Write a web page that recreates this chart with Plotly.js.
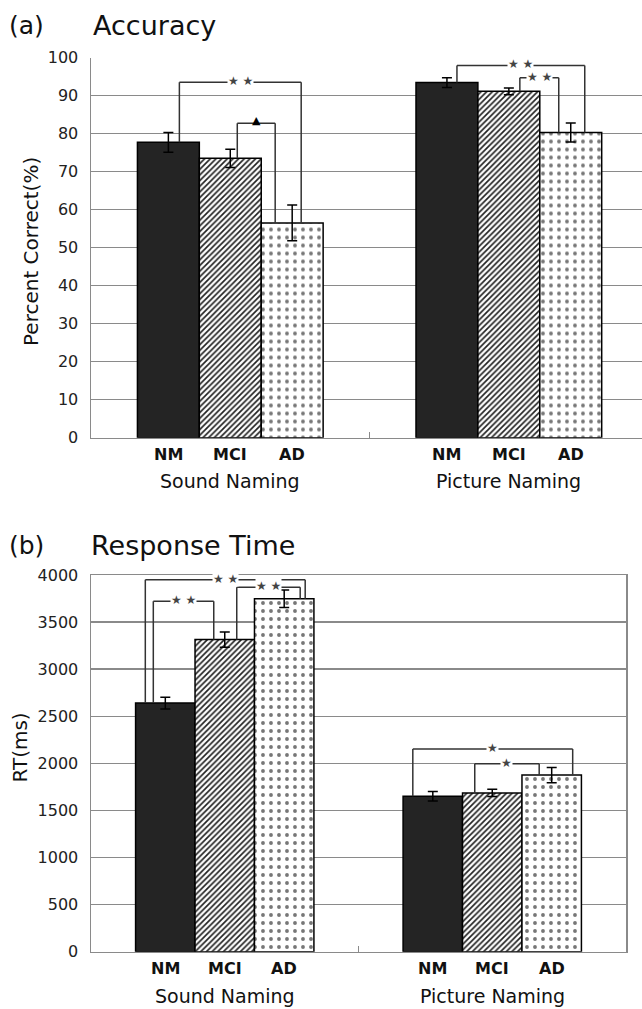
<!DOCTYPE html>
<html><head><meta charset="utf-8">
<script src="https://cdn.plot.ly/plotly-3.0.1.min.js"></script>
<style>html,body{margin:0;padding:0;background:#fff}</style>
</head><body><div id="chart" style="width:642px;height:1009px"></div>
<script>
// ---- data ----
const categories = ['Sound Naming', 'Picture Naming'];
const groups = ['NM', 'MCI', 'AD'];

const accNM = [77.7, 93.4];
const accMCI = [73.5, 91.1];
const accAD = [56.5, 80.3];
const accErrNM = [2.6, 1.3];
const accErrMCI = [2.4, 0.9];
const accErrAD = [4.7, 2.5];

const rtNM = [2640, 1651];
const rtMCI = [3314, 1686];
const rtAD = [3747, 1875];
const rtErrNM = [62, 50];
const rtErrMCI = [80, 38];
const rtErrAD = [93, 80];

// significance brackets: [category index, from group, to group, bracket level, label]
const accSig = [[0, 0, 2, 93.5, '★ ★'], [0, 1, 2, 82.7, '▲'], [1, 0, 2, 97.9, '★ ★'], [1, 1, 2, 94.7, '★ ★']];
const rtSig = [[0, 0, 2, 3950, '★ ★'], [0, 0, 1, 3722, '★ ★'], [0, 1, 2, 3870, '★ ★'], [1, 0, 2, 2153, '★'], [1, 1, 2, 1995, '★']];

// ---- drawing ----
const W = 642, H = 1009;
const px = x => x / W;
const py = y => 1 - y / H;
const FONT = 'DejaVu Sans, Liberation Sans, Arial, sans-serif';
const GRID = '#8a8a8a';
const BAR_W = (1 - 1 / 3) / 3; // bargap 1/3, three bars per group

const styles = [
  {color: '#242424', line: {color: '#000', width: 1.5}},
  {color: '#ffffff', pattern: {shape: '/', fgcolor: '#222', bgcolor: '#fff', size: 4, solidity: 0.42}, line: {color: '#000', width: 1.5}},
  {color: '#ffffff', pattern: {shape: '.', fgcolor: '#777', bgcolor: '#fff', size: 8, solidity: 0.18}, line: {color: '#000', width: 1.5}}
];

function bars(vals, errs, xa, ya) {
  return vals.map((v, i) => ({
    type: 'bar', x: categories, y: v, name: groups[i], xaxis: xa, yaxis: ya,
    marker: styles[i],
    error_y: {type: 'data', array: errs[i], visible: true, color: '#000', thickness: 1.5, width: 5}
  }));
}

const data = [
  ...bars([accNM, accMCI, accAD], [accErrNM, accErrMCI, accErrAD], 'x', 'y'),
  ...bars([rtNM, rtMCI, rtAD], [rtErrNM, rtErrMCI, rtErrAD], 'x2', 'y2')
];

const shapes = [];
const annotations = [];

function center(cat, g) { return cat + (g - 1) * BAR_W; }

// px offsets of bracket legs relative to bar centres (style)
const accOff = [[11, 9], [7, -17], [10, 14], [11, -12]];
const rtOff = [[-20, 21], [-12, -11], [12, 16], [-20, 21], [-17.5, -12.5]];

function brackets(sig, offs, tops, xa, ya, unit, starSize) {
  sig.forEach((s, k) => {
    const [cat, a, b, lvl, lab] = s;
    const x1 = center(cat, a) + offs[k][0] / unit;
    const x2 = center(cat, b) + offs[k][1] / unit;
    const ln = {color: '#333', width: 1.5};
    shapes.push({type: 'line', xref: xa, yref: ya, x0: x1, x1: x1, y0: tops[a][cat], y1: lvl, line: ln});
    shapes.push({type: 'line', xref: xa, yref: ya, x0: x1, x1: x2, y0: lvl, y1: lvl, line: ln});
    shapes.push({type: 'line', xref: xa, yref: ya, x0: x2, x1: x2, y0: tops[b][cat], y1: lvl, line: ln});
    const tri = lab === '▲';
    annotations.push({
      xref: xa, yref: ya, x: (x1 + x2) / 2, y: lvl, text: lab, showarrow: false,
      font: {family: 'DejaVu Sans', size: tri ? 11 : starSize, color: tri ? '#000' : '#444'},
      bgcolor: tri ? 'rgba(0,0,0,0)' : '#fff', borderpad: 0,
      yanchor: tri ? 'bottom' : 'middle', yshift: tri ? -5 : 1
    });
  });
}

brackets(accSig, accOff, [accNM, accMCI, accAD], 'x', 'y', 278.5, 12);
brackets(rtSig, rtOff, [rtNM, rtMCI, rtAD], 'x2', 'y2', 267.5, 12);

// category + group labels
function catLabels(xa, yGroupPx, yCatPx) {
  categories.forEach((c, ci) => {
    groups.forEach((g, gi) => {
      annotations.push({xref: xa, yref: 'paper', x: center(ci, gi), y: py(yGroupPx), text: '<b>' + g + '</b>',
        showarrow: false, font: {family: FONT, size: 16, color: '#111'}, yanchor: 'middle'});
    });
    annotations.push({xref: xa, yref: 'paper', x: ci, y: py(yCatPx), text: c,
      showarrow: false, font: {family: FONT, size: 19, color: '#111'}, yanchor: 'middle'});
  });
}
catLabels('x', 454, 481);
catLabels('x2', 968.5, 996);

// titles
function txt(x, y, t, size, opts) {
  annotations.push(Object.assign({xref: 'paper', yref: 'paper', x: px(x), y: py(y), text: t, showarrow: false,
    xanchor: 'left', yanchor: 'middle', font: {family: FONT, size: size, color: '#111'}}, opts || {}));
}
txt(7, 26, '(a)', 25);
txt(91, 26, 'Accuracy', 27);
txt(7, 545, '(b)', 25);
txt(89, 545, 'Response Time', 27);
txt(31, 252, 'Percent Correct(%)', 20, {xanchor: 'center', textangle: -90});
txt(19.5, 748, 'RT(ms)', 20, {xanchor: 'center', textangle: -90});

const yTickFont = {family: FONT, size: 16, color: '#222'};

const layout = {
  width: W, height: H,
  margin: {l: 0, r: 0, t: 0, b: 0},
  paper_bgcolor: '#fff', plot_bgcolor: '#fff',
  showlegend: false, hovermode: false,
  barmode: 'group', bargap: 1 / 3, bargroupgap: 0,
  xaxis: {domain: [px(91), 1], range: [-0.5, 1.478], type: 'category', showticklabels: false,
    ticks: 'inside', tickson: 'boundaries', ticklen: 6, tickcolor: GRID, tickwidth: 1.2,
    showline: true, linecolor: GRID, linewidth: 1.5, showgrid: false, zeroline: false, anchor: 'y'},
  yaxis: {domain: [py(437.7), py(57.5)], range: [0, 100], tick0: 0, dtick: 10,
    showgrid: true, gridcolor: GRID, gridwidth: 1.5, showline: true, linecolor: GRID, linewidth: 1.5,
    zeroline: false, ticks: '', ticklabelstandoff: 8, tickfont: yTickFont, anchor: 'x'},
  xaxis2: {domain: [px(91), px(626)], range: [-0.5, 1.5], type: 'category', showticklabels: false,
    ticks: 'inside', tickson: 'boundaries', ticklen: 6, tickcolor: GRID, tickwidth: 1.2,
    showline: true, mirror: true, linecolor: GRID, linewidth: 1.5, showgrid: false, zeroline: false, anchor: 'y2'},
  yaxis2: {domain: [py(951.7), py(575)], range: [0, 4000], tick0: 0, dtick: 500,
    showgrid: true, gridcolor: GRID, gridwidth: 1.5, showline: true, mirror: true, linecolor: GRID, linewidth: 1.5,
    zeroline: false, ticks: '', ticklabelstandoff: 8, tickfont: yTickFont, anchor: 'x2'},
  shapes: shapes,
  annotations: annotations
};

Plotly.newPlot('chart', data, layout, {staticPlot: true, displayModeBar: false});
</script>
</body></html>
